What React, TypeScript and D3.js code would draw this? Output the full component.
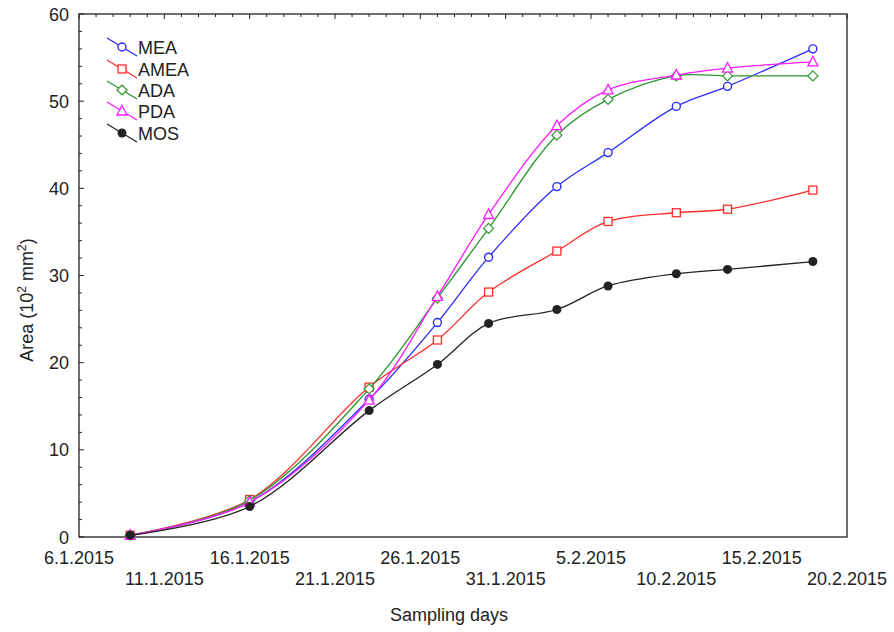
import React, { useEffect, useRef } from 'react';
import * as d3 from 'd3';

// sampling dates (day, month) in 2015
const sampleDays = [[9, 1], [16, 1], [23, 1], [27, 1], [30, 1], [3, 2], [6, 2], [10, 2], [13, 2], [18, 2]];

const meaValues = [0.2, 4.0, 15.8, 24.6, 32.1, 40.2, 44.1, 49.4, 51.7, 56.0];
const ameaValues = [0.2, 4.3, 17.2, 22.6, 28.1, 32.8, 36.2, 37.2, 37.6, 39.8];
const adaValues = [0.2, 4.2, 17.0, 27.4, 35.4, 46.1, 50.2, 52.9, 52.9, 52.9];
const pdaValues = [0.2, 4.0, 15.7, 27.6, 37.0, 47.2, 51.3, 53.0, 53.8, 54.5];
const mosValues = [0.2, 3.5, 14.5, 19.8, 24.5, 26.1, 28.8, 30.2, 30.7, 31.6];

const seriesNames = ['MEA', 'AMEA', 'ADA', 'PDA', 'MOS'];
const seriesColors = ['#2b2bff', '#ff2b2b', '#2e962e', '#ff1aff', '#222222'];
const seriesMarkers = ['circle', 'square', 'diamond', 'triangle', 'dot'];

const yTicks = [0, 10, 20, 30, 40, 50, 60];

const font = '"Liberation Sans", Arial, sans-serif';

const App = () => {
    const svgRef = useRef(null);

    useEffect(() => {
        const svg = d3.select(svgRef.current);
        svg.selectAll('*').remove();

        const left = 79, right = 847, top = 14, bottom = 537;

        const x = d3.scaleTime()
            .domain([new Date(2015, 0, 6), new Date(2015, 1, 20)])
            .range([left, right]);
        const y = d3.scaleLinear().domain([0, 60]).range([bottom, top]);

        const dates = sampleDays.map(([d, m]) => new Date(2015, m - 1, d));
        const allValues = [meaValues, ameaValues, adaValues, pdaValues, mosValues];

        // frame
        svg.append('rect')
            .attr('x', left).attr('y', top)
            .attr('width', right - left).attr('height', bottom - top)
            .attr('fill', 'none').attr('stroke', '#222').attr('stroke-width', 1.3);

        // top ticks (inward)
        const dayTicks = d3.timeDay.range(new Date(2015, 0, 6), new Date(2015, 1, 21));
        svg.append('g').selectAll('line')
            .data(dayTicks)
            .enter().append('line')
            .attr('x1', d => x(d)).attr('x2', d => x(d))
            .attr('y1', top)
            .attr('y2', (d, i) => top + (i % 5 === 0 ? 5 : 3))
            .attr('stroke', '#222');

        // left ticks (inward)
        const minorY = d3.range(0, 61, 2);
        svg.append('g').selectAll('line')
            .data(minorY)
            .enter().append('line')
            .attr('x1', left)
            .attr('x2', d => left + (d % 10 === 0 ? 5 : 3))
            .attr('y1', d => y(d)).attr('y2', d => y(d))
            .attr('stroke', '#222');

        // y labels
        svg.append('g').selectAll('text')
            .data(yTicks)
            .enter().append('text')
            .attr('x', 69).attr('y', d => y(d) + 6.5)
            .attr('text-anchor', 'end')
            .attr('font-family', font).attr('font-size', 18).attr('fill', '#222')
            .text(d => d);

        // x labels in two rows
        const xTicks = d3.timeDay.every(5).range(new Date(2015, 0, 6), new Date(2015, 1, 21));
        const fmt = d => `${d.getDate()}.${d.getMonth() + 1}.${d.getFullYear()}`;
        svg.append('g').selectAll('text')
            .data(d3.timeDay.range(new Date(2015, 0, 6), new Date(2015, 1, 21), 5))
            .enter().append('text')
            .attr('x', d => x(d))
            .attr('y', (d, i) => (i % 2 === 0 ? 564 : 585))
            .attr('text-anchor', 'middle')
            .attr('font-family', font).attr('font-size', 18).attr('fill', '#222')
            .text(fmt);

        // axis titles
        svg.append('text')
            .attr('x', 449).attr('y', 621)
            .attr('text-anchor', 'middle')
            .attr('font-family', font).attr('font-size', 18).attr('fill', '#222')
            .text('Sampling days');

        const yt = svg.append('text')
            .attr('transform', 'translate(33,300) rotate(-90)')
            .attr('text-anchor', 'middle')
            .attr('font-family', font).attr('font-size', 18).attr('fill', '#222');
        yt.append('tspan').text('Area (10');
        yt.append('tspan').attr('font-size', 12).attr('dy', -7).text('2');
        yt.append('tspan').attr('dy', 7).text(' mm');
        yt.append('tspan').attr('font-size', 12).attr('dy', -7).text('2');
        yt.append('tspan').attr('dy', 7).text(')');

        const line = d3.line()
            .x(d => x(d[0]))
            .y(d => y(d[1]))
            .curve(d3.curveCatmullRom.alpha(0.5));

        const drawMarker = (g, kind, cx, cy, color) => {
            if (kind === 'circle') {
                g.append('circle').attr('cx', cx).attr('cy', cy).attr('r', 4)
                    .attr('fill', 'white').attr('stroke', color).attr('stroke-width', 1.4);
            } else if (kind === 'square') {
                g.append('rect').attr('x', cx - 4).attr('y', cy - 4).attr('width', 8).attr('height', 8)
                    .attr('fill', 'white').attr('stroke', color).attr('stroke-width', 1.3);
            } else if (kind === 'diamond') {
                g.append('path').attr('d', `M${cx},${cy - 5}L${cx + 5},${cy}L${cx},${cy + 5}L${cx - 5},${cy}Z`)
                    .attr('fill', 'white').attr('stroke', color).attr('stroke-width', 1.2);
            } else if (kind === 'triangle') {
                g.append('path').attr('d', `M${cx},${cy - 5.5}L${cx + 5},${cy + 4}L${cx - 5},${cy + 4}Z`)
                    .attr('fill', 'white').attr('stroke', color).attr('stroke-width', 1.3);
            } else {
                g.append('circle').attr('cx', cx).attr('cy', cy).attr('r', 4.5)
                    .attr('fill', color);
            }
        };

        allValues.forEach((vals, si) => {
            const pts = vals.map((v, i) => [dates[i], v]);
            const g = svg.append('g');
            g.append('path')
                .datum(pts)
                .attr('fill', 'none')
                .attr('stroke', seriesColors[si])
                .attr('stroke-width', 1.3)
                .attr('d', line);
            pts.forEach(p => drawMarker(g, seriesMarkers[si], x(p[0]), y(p[1]), seriesColors[si]));
        });

        // legend
        const legendY = [47, 69, 90, 111, 133];
        seriesNames.forEach((name, i) => {
            const g = svg.append('g');
            const ly = legendY[i];
            g.append('line')
                .attr('x1', 107).attr('y1', ly - 9)
                .attr('x2', 137).attr('y2', ly + 9)
                .attr('stroke', seriesColors[i]).attr('stroke-width', 1.3);
            drawMarker(g, seriesMarkers[i], 122, ly, seriesColors[i]);
            g.append('text')
                .attr('x', 138).attr('y', ly + 6.5)
                .attr('font-family', font).attr('font-size', 18).attr('fill', '#222')
                .text(name);
        });
    }, []);

    return (
        <svg ref={svgRef} width={894} height={632}
             style={{ position: 'absolute', left: 0, top: 0, background: 'white' }} />
    );
};

export default App;
